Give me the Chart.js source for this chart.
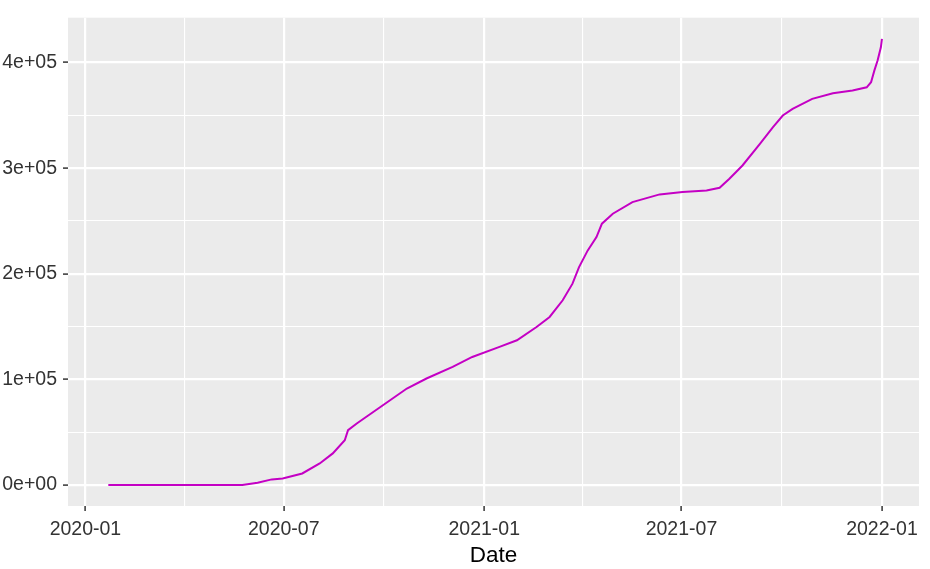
<!DOCTYPE html>
<html>
<head>
<meta charset="utf-8">
<script src="https://cdn.jsdelivr.net/npm/chart.js@4/dist/chart.umd.min.js"></script>
<style>
  html, body { margin: 0; padding: 0; background: #ffffff; }
  #wrap { width: 930px; height: 569px; }
</style>
</head>
<body>
<div id="wrap"><canvas id="chart" width="930" height="569"></canvas></div>
<script>
// Cumulative series
const dates = [
    '2020-01-22', '2020-05-24', '2020-06-07', '2020-06-20', '2020-06-30', '2020-07-18',
    '2020-08-03', '2020-08-15', '2020-08-26', '2020-08-29', '2020-09-06', '2020-09-30',
    '2020-10-22', '2020-11-09', '2020-12-03', '2020-12-21', '2021-01-15', '2021-01-31',
    '2021-02-18', '2021-03-02', '2021-03-14', '2021-03-23', '2021-03-29', '2021-04-06',
    '2021-04-14', '2021-04-19', '2021-04-29', '2021-05-17', '2021-06-11', '2021-07-02',
    '2021-07-24', '2021-08-05', '2021-08-14', '2021-08-26', '2021-09-11', '2021-09-23',
    '2021-10-02', '2021-10-11', '2021-10-29', '2021-11-17', '2021-12-05', '2021-12-18',
    '2021-12-22', '2021-12-25', '2021-12-28', '2021-12-31', '2022-01-01'
];
const values = [
    0, 0, 2200, 5400, 6300, 11000,
    20500, 30000, 42500, 52000, 58300, 75600,
    91400, 100900, 111900, 121300, 130800, 137100,
    149700, 159200, 175000, 190700, 206400, 222200,
    234800, 247500, 256900, 267900, 275200, 277400,
    279000, 281500, 290000, 302600, 323100, 338800,
    349900, 356200, 365700, 371000, 373500, 376600,
    381400, 392400, 401900, 414500, 422400
];

// Axis breaks
const xMajor = ['2020-01-01', '2020-07-01', '2021-01-01', '2021-07-01', '2022-01-01'];
const xMinor = ['2020-04-01', '2020-10-01', '2021-04-01', '2021-10-01'];
const yMajor = [0, 100000, 200000, 300000, 400000];
const yMinor = [50000, 150000, 250000, 350000];
const yLabels = ['0e+00', '1e+05', '2e+05', '3e+05', '4e+05'];
const xTitle = 'Date';

const toMs = (s) => Date.parse(s + 'T00:00:00Z');
const xMajorMs = xMajor.map(toMs);

function fmtMonth(ms) {
    const d = new Date(ms);
    return d.getUTCFullYear() + '-' + String(d.getUTCMonth() + 1).padStart(2, '0');
}

const panelBg = {
    id: 'panelBg',
    beforeDraw(chart) {
        const { ctx, chartArea: a } = chart;
        ctx.save();
        ctx.fillStyle = '#ffffff';
        ctx.fillRect(0, 0, chart.width, chart.height);
        ctx.fillStyle = '#EBEBEB';
        ctx.fillRect(a.left, a.top, a.right - a.left, a.bottom - a.top);
        ctx.restore();
    }
};

const tickFont = { family: 'Liberation Sans, Arial, sans-serif', size: 19.5 };

new Chart(document.getElementById('chart').getContext('2d'), {
    type: 'line',
    data: {
        datasets: [{
            data: dates.map((d, i) => ({ x: toMs(d), y: values[i] })),
            borderColor: '#C400C4',
            borderWidth: 2,
            pointRadius: 0,
            tension: 0,
            fill: false
        }]
    },
    options: {
        responsive: false,
        animation: false,
        layout: { padding: { top: 17, right: 11, left: 0, bottom: 0 } },
        plugins: {
            legend: { display: false },
            tooltip: { enabled: false }
        },
        scales: {
            x: {
                type: 'linear',
                min: toMs('2019-12-16'),
                max: toMs('2022-02-04'),
                afterBuildTicks: (scale) => {
                    scale.ticks = xMajor.concat(xMinor).map(s => ({ value: toMs(s) }));
                },
                afterFit: (scale) => { scale.height = 63; },
                ticks: {
                    autoSkip: false,
                    maxRotation: 0,
                    padding: 7,
                    color: '#333333',
                    font: tickFont,
                    callback: (v) => xMajorMs.includes(v) ? fmtMonth(v) : ''
                },
                grid: {
                    color: '#ffffff',
                    lineWidth: (c) => xMajorMs.includes(c.tick && c.tick.value) ? 2.2 : 1.1,
                    tickLength: 5,
                    tickWidth: 1.5,
                    tickColor: (c) => xMajorMs.includes(c.tick && c.tick.value) ? '#333333' : 'rgba(0,0,0,0)'
                },
                border: { display: false },
                title: {
                    display: true,
                    text: xTitle,
                    color: '#000000',
                    padding: 0,
                    font: { family: 'Liberation Sans, Arial, sans-serif', size: 22.5 }
                }
            },
            y: {
                type: 'linear',
                min: -19800,
                max: 442500,
                afterBuildTicks: (scale) => {
                    scale.ticks = yMajor.concat(yMinor).map(v => ({ value: v }));
                },
                afterFit: (scale) => { scale.width = 68; },
                ticks: {
                    autoSkip: false,
                    padding: 6,
                    color: '#333333',
                    font: tickFont,
                    callback: (v) => {
                        const i = yMajor.indexOf(v);
                        return i >= 0 ? yLabels[i] : '';
                    }
                },
                grid: {
                    color: '#ffffff',
                    lineWidth: (c) => yMajor.includes(c.tick && c.tick.value) ? 2.2 : 1.1,
                    tickLength: 5,
                    tickWidth: 1.5,
                    tickColor: (c) => yMajor.includes(c.tick && c.tick.value) ? '#333333' : 'rgba(0,0,0,0)'
                },
                border: { display: false }
            }
        }
    },
    plugins: [panelBg]
});
</script>
</body>
</html>
